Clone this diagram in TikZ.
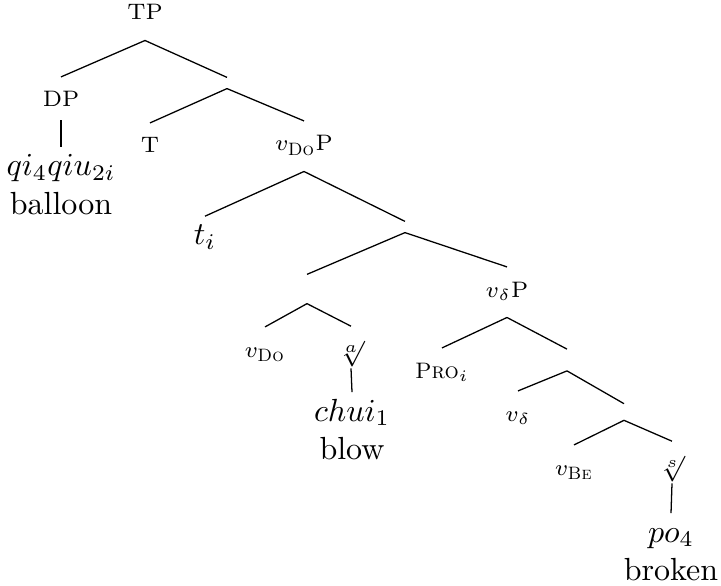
\documentclass[tikz,border=0pt]{standalone}
\usepackage{amsmath}
\usetikzlibrary{positioning}
\newcommand{\fsub}[1]{\hbox{\fontsize{5.6}{6}\selectfont\textsc{#1}}}
\tikzset{
  lab/.style={font=\scriptsize, anchor=base, inner sep=3pt, text height=6.2pt, text depth=3.2pt},
  unary/.style={text depth=1pt},
  rootlab/.style={font=\footnotesize, text height=5.8pt},
  wd/.style={anchor=base, inner sep=3pt, text height=5.8pt, text depth=2pt},
  gl/.style={anchor=base, inner sep=0pt},
  hub/.style={inner sep=0pt, minimum width=0pt, minimum height=#1},
  hub/.default=3.1pt,
}
\begin{document}
\begin{tikzpicture}[x=0.3125pt, y=-0.3125pt]
        \useasboundingbox (0,0) rectangle (721,586);
        % nodes
        \node[lab] (tp) at (145,20) {TP};
        \node[lab, unary] (dp) at (61,107) {DP};
        \node[hub] (h1) at (227,83) {};
        \node[wd] (qiqiu) at (61,176) {$qi_4qiu_{2i}$};
        \node[gl] (balloon) at (61,214) {balloon};
        \node[lab] (t) at (150,153) {T};
        \node[lab] (vdop) at (304,151) {$v_{\fsub{Do}}$P};
        \node[wd] (ti) at (205,245) {$t_i$};
        \node[hub] (h2) at (405,227) {};
        \node[hub=8.75pt] (h3) at (307,289) {};
        \node[lab] (vdp) at (507,297) {$v_\delta$P};
        \node[lab] (vdo) at (265,357) {$v_{\fsub{Do}}$};
        \node[lab, unary, rootlab] (rta) at (351,355) {$\sqrt[a]{}$};
        \node[wd] (chui) at (352,421) {$chui_1$};
        \node[gl] (blow) at (352,459) {blow};
        \node[lab] (pro) at (442,378) {\textsc{Pro}$_i$};
        \node[hub=6.4pt] (h4) at (567,360) {};
        \node[lab] (vd) at (518,421) {$v_\delta$};
        \node[hub=4.8pt] (h5) at (624,412) {};
        \node[lab] (vbe) at (574,475) {$v_{\fsub{Be}}$};
        \node[lab, unary, rootlab] (rts) at (672,470) {$\sqrt[s]{}$};
        \node[wd] (po) at (671,542) {$po_4$};
        \node[gl] (broken) at (671,580) {broken};
        % branches
        \draw (tp.south) -- (dp.north);
        \draw (tp.south) -- (h1.north);
        \draw (dp.south) -- (qiqiu.north);
        \draw (h1.south) -- (t.north);
        \draw (h1.south) -- (vdop.north);
        \draw (vdop.south) -- (ti.north);
        \draw (vdop.south) -- (h2.north);
        \draw (h2.south) -- (h3.north);
        \draw (h2.south) -- (vdp.north);
        \draw (h3.south) -- (vdo.north);
        \draw (h3.south) -- (rta.north);
        \draw (rta.south) -- (chui.north);
        \draw (vdp.south) -- (pro.north);
        \draw (vdp.south) -- (h4.north);
        \draw (h4.south) -- (vd.north);
        \draw (h4.south) -- (h5.north);
        \draw (h5.south) -- (vbe.north);
        \draw (h5.south) -- (rts.north);
        \draw (rts.south) -- (po.north);
    \end{tikzpicture}
\end{document}
